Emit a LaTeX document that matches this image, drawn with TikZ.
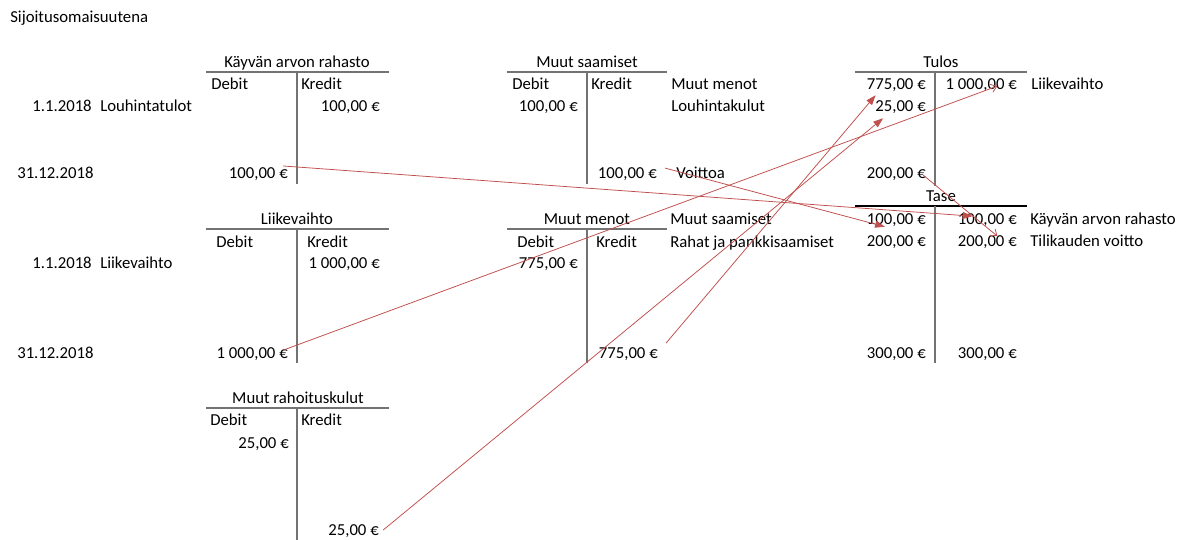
\documentclass[tikz,border=0pt]{standalone}
\usepackage{fontspec}
\setmainfont{Carlito}
\usetikzlibrary{arrows.meta}
\definecolor{linkred}{RGB}{192,80,77}

\begin{document}
\begin{tikzpicture}[x=0.025cm,y=-0.025cm,
    every node/.style={inner sep=0pt,text height=9.6pt,text depth=2pt,font=\fontsize{11.9}{14}\selectfont},
    amt/.style={anchor=east},
    lbl/.style={anchor=west},
    tline/.style={draw=black!55,line width=0.9pt},
    link/.style={draw=linkred,line width=0.55pt,-{Triangle[length=7pt,width=5pt]}},
    openlink/.style={draw=linkred,line width=0.55pt,-{Straight Barb[length=4pt,width=6pt]}}]
    \useasboundingbox (0,0) rectangle (1193,540);

    \node[lbl] (head) at (10,17) {Sijoitusomaisuutena};

    % Kayvan arvon rahasto
    \node (kvaT) at (297,62) {Käyvän arvon rahasto};
    \draw[tline] (206,72) -- (389,72) (297,72) -- (297,184);
    \node[lbl] (kvaD) at (211,84) {Debit};
    \node[lbl] (kvaK) at (301,84) {Kredit};
    \node[amt] (date1) at (92,106) {1.1.2018};
    \node[lbl] (kvaR1) at (100,106) {Louhintatulot};
    \node[amt] (kvaK1) at (380,106) {100,00 €};
    \node[lbl] (date2) at (17,173) {31.12.2018};
    \node[amt] (kvaD2) at (288,173) {100,00 €};

    % Muut saamiset
    \node (msT) at (587,62) {Muut saamiset};
    \draw[tline] (507,72) -- (667,72) (587,72) -- (587,184);
    \node[lbl] (msD) at (512,84) {Debit};
    \node[lbl] (msK) at (591,84) {Kredit};
    \node[lbl] (msR1) at (671,84) {Muut menot};
    \node[amt] (msD1) at (578,106) {100,00 €};
    \node[lbl] (msR2) at (671,106) {Louhintakulut};
    \node[amt] (msK2) at (657,173) {100,00 €};
    \node[lbl] (msR3) at (676,173) {Voittoa};

    % Tulos
    \node (tuT) at (941,62) {Tulos};
    \draw[tline] (855,72) -- (1027,72) (935,72) -- (935,186);
    \node[amt] (tuD1) at (926,84) {775,00 €};
    \node[amt] (tuK1) at (1017,84) {1 000,00 €};
    \node[lbl] (tuR1) at (1031,84) {Liikevaihto};
    \node[amt] (tuD2) at (926,106) {25,00 €};
    \node[amt] (tuD3) at (926,173) {200,00 €};

    % Tase
    \node (taT) at (941,196) {Tase};
    \draw[black,line width=0.75pt] (855,206) -- (1027,206);
    \draw[tline] (935,206) -- (935,363);
    \node[amt] (taD1) at (926,219) {100,00 €};
    \node[amt] (taK1) at (1017,219) {100,00 €};
    \node[lbl] (taR1) at (1030,219) {Käyvän arvon rahasto};
    \node[amt] (taD2) at (926,241) {200,00 €};
    \node[amt] (taK2) at (1017,241) {200,00 €};
    \node[lbl] (taR2) at (1030,241) {Tilikauden voitto};
    \node[amt] (taD3) at (926,353) {300,00 €};
    \node[amt] (taK3) at (1017,353) {300,00 €};

    % Liikevaihto
    \node (lvT) at (297,219) {Liikevaihto};
    \draw[tline] (206,229) -- (389,229) (297,229) -- (297,363);
    \node[lbl] (lvD) at (216,242) {Debit};
    \node[lbl] (lvK) at (307,242) {Kredit};
    \node[amt] (date3) at (92,263) {1.1.2018};
    \node[lbl] (lvR1) at (100,263) {Liikevaihto};
    \node[amt] (lvK1) at (380,263) {1 000,00 €};
    \node[lbl] (date4) at (17,353) {31.12.2018};
    \node[amt] (lvD2) at (288,353) {1 000,00 €};

    % Muut menot
    \node (mmT) at (587,219) {Muut menot};
    \draw[tline] (507,229) -- (667,229) (587,229) -- (587,363);
    \node[lbl] (mmD) at (517,242) {Debit};
    \node[lbl] (mmK) at (596,242) {Kredit};
    \node[lbl] (mmR1) at (670,219) {Muut saamiset};
    \node[lbl] (mmR2) at (670,242) {Rahat ja pankkisaamiset};
    \node[amt] (mmD1) at (578,263) {775,00 €};
    \node[amt] (mmK2) at (658,353) {775,00 €};

    % Muut rahoituskulut
    \node (mrT) at (298,398) {Muut rahoituskulut};
    \draw[tline] (206,408) -- (389,408) (297,408) -- (297,540);
    \node[lbl] (mrD) at (210,420) {Debit};
    \node[lbl] (mrK) at (301,420) {Kredit};
    \node[amt] (mrD1) at (289,443) {25,00 €};
    \node[amt] (mrK2) at (379,530) {25,00 €};

    % Siirrot
    \draw[link] ([xshift=-3.5pt,yshift=5pt]kvaD2.east) -- ([xshift=10.6pt,yshift=2pt]taK1.west);
    \draw[link] ([xshift=5.7pt,yshift=3.5pt]msK2.east) -- ([xshift=13pt,yshift=0.5pt]taD1.south west);
    \draw[openlink] ([xshift=-3.5pt,yshift=2pt]lvD2.east) -- ([xshift=-14pt,yshift=-1.5pt]tuK1.east);
    \draw[link] ([xshift=5.7pt,yshift=7pt]mmK2.east) -- ([xshift=6.4pt,yshift=-2pt]tuD1.south west);
    \draw[link] ([xshift=3pt,yshift=0pt]mrK2.east) -- ([xshift=5.7pt,yshift=-2.7pt]tuD2.south west);
    \draw[openlink] ([xshift=-2pt,yshift=-1.5pt]tuD3.east) -- ([xshift=-14pt,yshift=3.5pt]taK2.east);
\end{tikzpicture}
\end{document}
